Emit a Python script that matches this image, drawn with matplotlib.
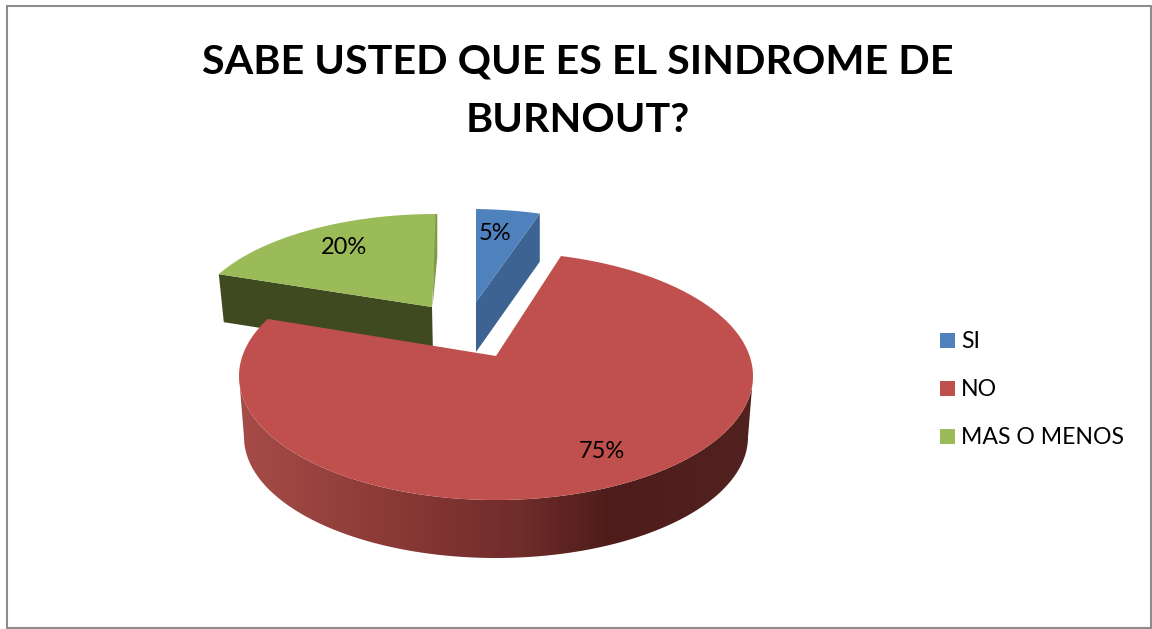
"""Exploded 3D-style pie: awareness of burnout syndrome."""
import math

import matplotlib
matplotlib.use('Agg')
import matplotlib.pyplot as plt
from matplotlib.colors import LinearSegmentedColormap
from matplotlib.patches import Polygon, Rectangle
import numpy as np

title = 'SABE USTED QUE ES EL SINDROME DE\nBURNOUT?'
categories = ['SI', 'NO', 'MAS O MENOS']
percentages = [5, 75, 20]

plt.rcParams['font.family'] = ['Lato', 'DejaVu Sans']

BLUE, RED, GREEN = '#4f81bd', '#c0504d', '#9bbb59'
PIE_THICKNESS = 48
SIDE_STOPS = [(0.0, '#a64c48'), (0.3, '#8a3936'), (0.55, '#6f2c2a'),
              (0.72, '#4e1d1b'), (1.0, '#522220')]


def ray_hit(apex, centre, radii, theta, squash, skew=0.0):
    """Where the slice edge at angle theta leaves the rim ellipse."""
    dx = math.sin(theta) + skew * math.cos(theta)
    dy = -squash * math.cos(theta)
    ox = (apex[0] - centre[0]) / radii[0]
    oy = (apex[1] - centre[1]) / radii[1]
    ux, uy = dx / radii[0], dy / radii[1]
    a = ux * ux + uy * uy
    b = 2 * (ox * ux + oy * uy)
    c = ox * ox + oy * oy - 1
    t = (-b + math.sqrt(b * b - 4 * a * c)) / (2 * a)
    return apex[0] + t * dx, apex[1] + t * dy


def rim_angle(point, centre, radii):
    return math.atan2((point[0] - centre[0]) / radii[0],
                      -(point[1] - centre[1]) / radii[1])


def rim_points(centre, radii, start, end, n=200):
    phi = np.linspace(start, end, n)
    return np.column_stack([centre[0] + radii[0] * np.sin(phi),
                            centre[1] - radii[1] * np.cos(phi)])


def slice_top(apex, centre, radii, start, end, squash, skew=0.0):
    p0 = ray_hit(apex, centre, radii, start, squash, skew)
    p1 = ray_hit(apex, centre, radii, end, squash, skew)
    a0 = rim_angle(p0, centre, radii)
    a1 = rim_angle(p1, centre, radii)
    while a1 <= a0:
        a1 += 2 * math.pi
    return np.vstack([[apex], rim_points(centre, radii, a0, a1)]), p0, p1


fig = plt.figure(figsize=(11.52, 6.29), dpi=100, facecolor='white')
ax = fig.add_axes([0, 0, 1, 1])

fractions = np.array(percentages) / sum(percentages)
edges = np.concatenate([[0], np.cumsum(fractions)]) * 2 * math.pi
si_start, si_end = edges[0], edges[1]
no_start, no_end = edges[1], edges[2]
mas_start, mas_end = edges[2], edges[3]

# green slice, sitting furthest back
apex = (432, 307)
top, left, _ = slice_top(apex, (436, 326), (245, 112), mas_start, mas_end, 0.47, 0.025)
ax.add_patch(Polygon([left, apex, (433, apex[1] + PIE_THICKNESS),
                      (left[0] + 5, left[1] + PIE_THICKNESS)], fc='#3f4a21', ec='none', zorder=2))
ax.add_patch(Polygon(top, fc=GREEN, ec='none', zorder=3))
ax.add_patch(Polygon([(437.3, 214), (437.3, 257), (432.5, 307), (435.5, 214)],
                     fc='#7f9a48', ec='none', zorder=4))

# blue slice
apex = (476, 302)
top, _, right = slice_top(apex, (470, 321), (245, 112), si_start, si_end, 0.45)
ax.add_patch(Polygon([apex, right, (right[0], right[1] + PIE_THICKNESS),
                      (apex[0], apex[1] + PIE_THICKNESS + 2)], fc='#3c6391', ec='none', zorder=2))
ax.add_patch(Polygon(top, fc=BLUE, ec='none', zorder=3))

# red slice, rim wall with a left-to-right shading first
centre, radii = (496, 376), (257, 124)
low_centre, low_radii = (496, 437), (252, 121)
wall = np.vstack([rim_points(centre, radii, math.pi / 2, 3 * math.pi / 2),
                  rim_points(low_centre, low_radii, 3 * math.pi / 2, math.pi / 2)])
wall_patch = Polygon(wall, fc='none', ec='none', transform=ax.transData)
ax.add_patch(wall_patch)
side_cmap = LinearSegmentedColormap.from_list('side', SIDE_STOPS)
shade = ax.imshow(np.linspace(0, 1, 512)[None, :], cmap=side_cmap, aspect='auto',
                  extent=(centre[0] - radii[0], centre[0] + radii[0], 570, 370), zorder=5)
shade.set_clip_path(wall_patch)

apex = (496, 356)
top, _, _ = slice_top(apex, centre, radii, no_start, no_end, 0.5)
ax.add_patch(Polygon(top, fc=RED, ec='none', zorder=6))

label_spots = [(495, 233), (602, 451), (344, 247)]
for pct, (x, y) in zip(percentages, label_spots):
    ax.text(x, y, f'{pct}%', fontsize=17, ha='center', va='center', color='black', zorder=8)

ax.text(578, 91, title, fontsize=29.7, fontweight='bold', ha='center', va='center',
        linespacing=1.72, color='black', zorder=8)

# legend
for i, (name, color) in enumerate(zip(categories, [BLUE, RED, GREEN])):
    y = 340.5 + 48 * i
    ax.add_patch(Rectangle((940, y - 7.5), 15, 15, fc=color, ec='none', zorder=8))
    ax.text(961, y + 1, name, fontsize=16.6, ha='left', va='center', color='black', zorder=8)

# chart frame
ax.add_patch(Rectangle((6.5, 5.5), 1144.5, 622.5, fc='none', ec='#8c8c8c', lw=1.5, zorder=9))

ax.set_xlim(0, 1152)
ax.set_ylim(629, 0)
ax.axis('off')
fig.savefig('out.png', dpi=100, facecolor='white')
plt.close(fig)
